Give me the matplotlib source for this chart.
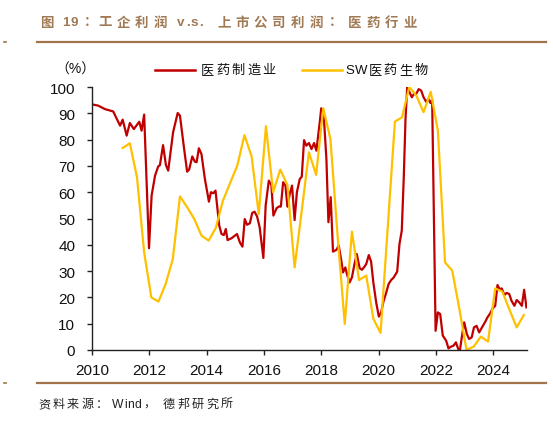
import matplotlib
matplotlib.use("Agg")
import matplotlib.pyplot as plt
from matplotlib.lines import Line2D

# ---------------- data ----------------
series_names = ["医药制造业", "SW医药生物"]

# 医药制造业 (monthly-ish, decimal year, %)
mfg_t = [2010.00, 2010.22, 2010.45, 2010.74, 2010.98, 2011.07, 2011.21, 2011.32, 2011.46, 2011.65,
         2011.73, 2011.82, 2011.99, 2012.08, 2012.20, 2012.31, 2012.37, 2012.48, 2012.58, 2012.66,
         2012.83, 2012.99, 2013.07, 2013.20, 2013.32, 2013.39, 2013.50, 2013.59, 2013.65, 2013.73,
         2013.82, 2013.94, 2014.08, 2014.15, 2014.23, 2014.31, 2014.44, 2014.52, 2014.60, 2014.67,
         2014.73, 2014.87, 2015.06, 2015.16, 2015.25, 2015.33, 2015.41, 2015.51, 2015.59, 2015.67,
         2015.76, 2015.85, 2015.98, 2016.06, 2016.17, 2016.26, 2016.33, 2016.44, 2016.53, 2016.59,
         2016.67, 2016.75, 2016.82, 2016.90, 2016.98, 2017.07, 2017.15, 2017.25, 2017.32, 2017.40,
         2017.48, 2017.57, 2017.66, 2017.75, 2017.83, 2017.94, 2018.00, 2018.08, 2018.18, 2018.25,
         2018.33, 2018.41, 2018.53, 2018.61, 2018.70, 2018.76, 2018.84, 2018.91, 2018.99, 2019.07,
         2019.16, 2019.24, 2019.34, 2019.42, 2019.51, 2019.57, 2019.66, 2019.74, 2019.82, 2019.92,
         2020.01, 2020.09, 2020.17, 2020.27, 2020.35, 2020.44, 2020.53, 2020.65, 2020.73, 2020.81,
         2020.88, 2020.94, 2021.00, 2021.08, 2021.16, 2021.23, 2021.31, 2021.40, 2021.49, 2021.57,
         2021.66, 2021.74, 2021.81, 2021.87, 2021.99, 2022.07, 2022.15, 2022.24, 2022.36, 2022.44,
         2022.53, 2022.61, 2022.70, 2022.78, 2022.84, 2022.93, 2022.99, 2023.08, 2023.16, 2023.25,
         2023.33, 2023.42, 2023.51, 2023.61, 2023.71, 2023.80, 2023.90, 2023.98, 2024.07, 2024.15,
         2024.22, 2024.30, 2024.39, 2024.47, 2024.56, 2024.64, 2024.74, 2024.82, 2024.91, 2025.00,
         2025.08, 2025.16]
mfg_v = [93.4, 92.9, 91.6, 90.7, 85.3, 87.6, 81.5, 86.3, 84.0, 86.8,
         83.4, 89.5, 38.7, 58.7, 66.3, 69.8, 70.3, 77.9, 70.3, 68.2,
         82.8, 90.1, 89.1, 77.7, 67.8, 68.6, 73.6, 71.6, 71.4, 76.7,
         74.5, 65.0, 56.4, 60.0, 59.6, 60.6, 47.3, 44.1, 43.7, 46.0,
         41.8, 42.5, 44.1, 40.9, 39.3, 49.8, 47.6, 48.2, 52.1, 52.6,
         50.8, 46.7, 35.0, 54.9, 64.4, 62.7, 51.1, 53.9, 54.6, 54.5,
         63.8, 62.5, 54.5, 59.3, 62.5, 49.4, 60.0, 65.0, 65.9, 79.8,
         77.7, 78.7, 76.4, 78.7, 75.8, 85.9, 91.9, 90.4, 72.6, 48.6,
         58.1, 37.4, 38.1, 39.7, 34.0, 29.5, 31.4, 28.3, 25.7, 27.6,
         32.7, 36.5, 31.1, 30.5, 31.7, 32.7, 36.1, 33.6, 25.5, 17.9,
         12.7, 14.3, 18.4, 21.9, 25.1, 26.6, 27.6, 29.8, 40.3, 45.4,
         65.7, 87.8, 100.0, 98.0, 96.1, 97.3, 97.3, 99.2, 98.6, 96.1,
         94.4, 95.4, 93.9, 95.4, 7.3, 14.3, 13.7, 5.5, 3.5, 0.6,
         1.3, 1.6, 2.9, 0.4, 0.0, 6.7, 10.5, 6.1, 4.2, 4.8,
         8.6, 9.2, 6.7, 8.6, 10.5, 12.4, 14.0, 15.8, 16.8, 24.7,
         23.2, 23.4, 20.9, 21.7, 21.3, 18.7, 16.8, 19.0, 18.1, 16.8,
         22.9, 16.2]

# SW医药生物 (quarterly, %)
sw_t = [2011.07, 2011.32, 2011.57, 2011.82, 2012.07, 2012.32, 2012.57, 2012.82,
        2013.07, 2013.32, 2013.57, 2013.82, 2014.07, 2014.32, 2014.57, 2014.82,
        2015.07, 2015.32, 2015.57, 2015.82, 2016.07, 2016.32, 2016.57, 2016.82,
        2017.07, 2017.32, 2017.57, 2017.82, 2018.07, 2018.32, 2018.57, 2018.82,
        2019.07, 2019.32, 2019.57, 2019.82, 2020.07, 2020.32, 2020.57, 2020.82,
        2021.07, 2021.32, 2021.57, 2021.82, 2022.07, 2022.32, 2022.57, 2022.82,
        2023.07, 2023.32, 2023.57, 2023.82, 2024.07, 2024.32, 2024.57, 2024.82,
        2025.07]
sw_v = [76.8, 78.6, 65.7, 37.1, 20.0, 18.4, 25.1, 34.6,
        58.4, 54.3, 49.8, 43.5, 41.6, 46.4, 56.8, 63.5,
        70.1, 81.7, 73.6, 51.7, 85.1, 60.0, 68.6, 62.7,
        31.4, 53.0, 75.2, 66.6, 91.9, 80.2, 43.5, 9.9,
        45.0, 26.6, 28.3, 11.8, 6.5, 46.6, 86.8, 88.5,
        100.0, 96.7, 90.4, 98.2, 83.4, 33.3, 30.2, 15.6,
        0.0, 1.3, 5.1, 3.2, 23.4, 22.2, 15.3, 8.6,
        13.3]

x_ticks = [2010, 2012, 2014, 2016, 2018, 2020, 2022, 2024]
y_ticks = [0, 10, 20, 30, 40, 50, 60, 70, 80, 90, 100]

# title / source split into pieces (text, left x in px) to reproduce their letter spacing
title_parts = [("图", 40), ("19", 62), ("：", 84), ("工企利润", 98), ("v.s.", 177),
               ("上市公司利润", 217), ("：", 329), ("医药行业", 348)]
source_parts = [("资料来源：", 38), ("Wind", 112), ("，", 143), ("德邦研究所", 163)]
unit_text = "（%）"

# ---------------- style ----------------
W, H = 553, 427
RED = "#C00000"
YEL = "#FFC000"
BROWN = "#A07448"
FAM = ["Liberation Sans", "Noto Sans CJK SC", "DejaVu Sans"]
plt.rcParams["font.family"] = FAM

fig = plt.figure(figsize=(W / 100, H / 100), dpi=100)
fig.patch.set_facecolor("white")

ax = fig.add_axes([92 / W, 1 - 351 / H, (527 - 92) / W, (351 - 88) / H])
ax.plot(mfg_t, mfg_v, color=RED, lw=1.6, solid_joinstyle="round")
ax.plot(sw_t, sw_v, color=YEL, lw=1.6, solid_joinstyle="round")

ax.set_xlim(2010, 2025.18)
ax.set_ylim(0, 100)
ax.set_xticks(x_ticks)
ax.set_xticklabels([str(t) for t in x_ticks])
ax.set_yticks(y_ticks)
for s in ["top", "right"]:
    ax.spines[s].set_visible(False)
for s in ["left", "bottom"]:
    ax.spines[s].set_linewidth(1.0)
    ax.spines[s].set_color("#222222")
ax.tick_params(axis="both", direction="out", length=3.5, width=1.0, color="#222222",
               labelsize=11, labelcolor="#111111")
ax.tick_params(axis="y", pad=8.5)
ax.tick_params(axis="x", pad=6)
for lab in ax.get_xticklabels() + ax.get_yticklabels():
    lab.set_family(FAM)

fig.canvas.draw()
renderer = fig.canvas.get_renderer()


def spaced_text(x_px, y_px, s, fs, sp_cjk, sp_lat, space_px, **kw):
    """Draw a string char by char with extra letter spacing; returns end x (px)."""
    x = x_px
    em = fs * 100 / 72
    for ch in s:
        if ch == " ":
            x += space_px
            continue
        t = fig.text(x / W, 1 - y_px / H, ch, ha="left", va="center", fontsize=fs, **kw)
        if ord(ch) > 0x2E80:
            x += em + sp_cjk
        else:
            x += t.get_window_extent(renderer).width + sp_lat
    return x


# title
for txt, x0 in title_parts:
    spaced_text(x0, 23.5, txt, 9.7, 5.0, 1.2, 4.0, fontweight="bold",
                color="#A07A55", family=FAM)
# source
for txt, x0 in source_parts:
    spaced_text(x0, 405, txt, 8.7, 2.4, 0.4, 3.0, color="#222222", family=FAM)
# unit label
fig.text(55 / W, 1 - 70 / H, unit_text, ha="left", va="center", fontsize=10,
         family=FAM, color="#111111")

# legend (manual layout so letter spacing matches)
leg_y = 71
for (x0, x1, tx), col, name in zip([(155, 195, 201), (302, 342, 345)], [RED, YEL], series_names):
    fig.add_artist(Line2D([x0 / W, x1 / W], [1 - leg_y / H, 1 - leg_y / H], color=col, lw=1.8))
    spaced_text(tx, leg_y, name, 9.5, 2.2, 1.0, 3.0, color="#111111", family=FAM)

# decorative brown rules
for y in (43, 384):
    fig.add_artist(Line2D([37 / W, 546 / W], [1 - y / H, 1 - y / H], color=BROWN, lw=1.6))
    fig.add_artist(Line2D([4 / W, 6 / W], [1 - y / H, 1 - y / H], color=BROWN, lw=1.2))

fig.savefig("out.png", dpi=100)
